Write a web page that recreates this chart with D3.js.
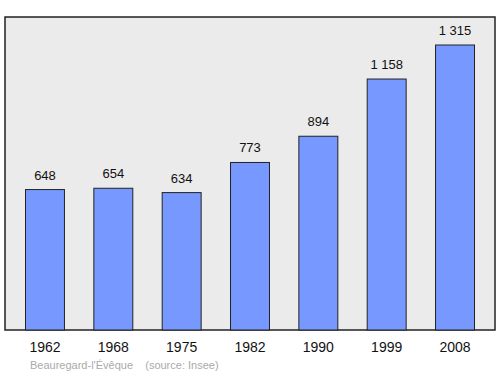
<!DOCTYPE html>
<html>
  <head>
    <meta charset="UTF-8">
    <title>Population</title>
    <script src="https://d3js.org/d3.v7.min.js"></script>
    <style>
      body { margin: 0; background: #fff; }
      text { font-family: "Liberation Sans", Arial, sans-serif; }
      .bar { fill: #7799ff; stroke: #222; stroke-width: 1px; }
      .frame { fill: #ebebeb; stroke: #222; stroke-width: 1.5px; }
    </style>
  </head>
  <body>
    <div id="chart"></div>
    <script>
      // census years and population
      const years = ["1962", "1968", "1975", "1982", "1990", "1999", "2008"];
      const population = [648, 654, 634, 773, 894, 1158, 1315];
      const labels = ["648", "654", "634", "773", "894", "1 158", "1 315"];

      const width = 500;
      const height = 374;
      const frame = { left: 5, top: 17, right: 495, bottom: 330 };

      const svg = d3.select("#chart")
        .append("svg")
        .attr("width", width)
        .attr("height", height);

      svg.append("rect")
        .attr("class", "frame")
        .attr("x", frame.left)
        .attr("y", frame.top)
        .attr("width", frame.right - frame.left)
        .attr("height", frame.bottom - frame.top);

      const x = d3.scaleBand()
        .domain(years)
        .range([frame.left, frame.right])
        .paddingInner(0.43)
        .paddingOuter(0.3);

      const y = d3.scaleLinear()
        .domain([0, 1315])
        .range([frame.bottom, 45]);

      svg.selectAll(".bar")
        .data(population)
        .enter()
        .append("rect")
        .attr("class", "bar")
        .attr("x", (d, i) => x(years[i]))
        .attr("y", d => y(d))
        .attr("width", x.bandwidth())
        .attr("height", d => y(0) - y(d));

      svg.selectAll(".val")
        .data(population)
        .enter()
        .append("text")
        .attr("class", "val")
        .attr("x", (d, i) => x(years[i]) + x.bandwidth() / 2)
        .attr("y", d => y(d) - 10)
        .attr("text-anchor", "middle")
        .attr("font-size", 13)
        .attr("fill", "#111")
        .text((d, i) => labels[i]);

      svg.selectAll(".year")
        .data(years)
        .enter()
        .append("text")
        .attr("class", "year")
        .attr("x", d => x(d) + x.bandwidth() / 2)
        .attr("y", 352)
        .attr("text-anchor", "middle")
        .attr("font-size", 14)
        .attr("fill", "#111")
        .text(d => d);

      svg.append("text")
        .attr("x", 30)
        .attr("y", 369)
        .attr("font-size", 11)
        .attr("fill", "#aaa")
        .attr("xml:space", "preserve")
        .style("white-space", "pre")
        .text("Beauregard-l'Évêque    (source: Insee)");
    </script>
  </body>
</html>
